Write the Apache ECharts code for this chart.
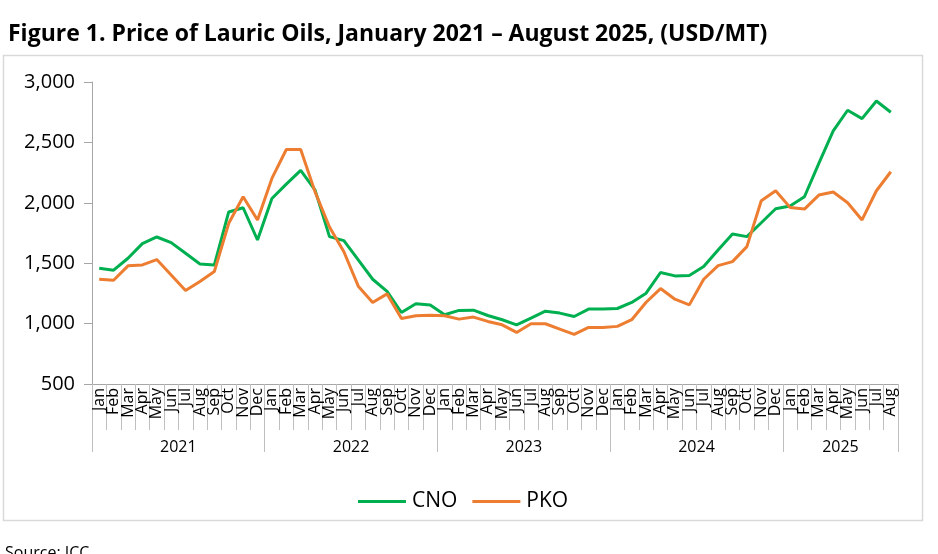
<!DOCTYPE html>
<html>
<head>
<meta charset="utf-8">
<script src="https://cdn.jsdelivr.net/npm/echarts@6/dist/echarts.min.js"></script>
<style>
html,body{margin:0;padding:0;background:#fff;}
#c{width:938px;height:554px;}
</style>
</head>
<body>
<div id="c"></div>
<script>
var months = ['Jan','Feb','Mar','Apr','May','Jun','Jul','Aug','Sep','Oct','Nov','Dec'];
var years = ['2021','2022','2023','2024','2025'];
var monthsPerYear = [12,12,12,12,8];
var yTicks = [500,1000,1500,2000,2500,3000];

var cno = [1458,1442,1541,1662,1717,1670,1582,1494,1486,1924,1959,1692,
           2036,2155,2268,2105,1720,1687,1527,1367,1266,1092,1164,1153,
           1073,1109,1111,1067,1032,990,1045,1103,1087,1059,1120,1120,
           1125,1175,1252,1423,1395,1398,1472,1610,1742,1720,1835,1951,
           1973,2050,2326,2595,2766,2697,2843,2750];
var pko = [1367,1359,1478,1486,1530,1403,1274,1348,1431,1830,2050,1858,
           2202,2441,2441,2090,1800,1595,1310,1175,1246,1043,1065,1070,
           1065,1037,1054,1018,990,927,999,999,955,911,968,968,
           977,1032,1177,1290,1202,1155,1367,1480,1513,1637,2017,2100,
           1962,1948,2064,2089,2001,1858,2100,2257];

// month category labels
var cats = [];
years.forEach(function(y, yi){
  for (var m = 0; m < monthsPerYear[yi]; m++) cats.push(months[m]);
});
// half-month grid for year group axis (boundaryGap false)
var total = cats.length;
var halfCats = [];
var yearBoundaries = {};
var yearCenters = {};
var acc = 0;
yearBoundaries[0] = true;
years.forEach(function(y, yi){
  yearCenters[(acc + monthsPerYear[yi]/2) * 2] = y;
  acc += monthsPerYear[yi];
  yearBoundaries[acc * 2] = true;
});
for (var j = 0; j <= total * 2; j++) halfCats.push(yearCenters[j] || '');

var font = "'Open Sans', 'Noto Sans', sans-serif";
var chart = echarts.init(document.getElementById('c'), null, {renderer: 'canvas'});
chart.setOption({
  animation: false,
  backgroundColor: '#ffffff',
  textStyle: {fontFamily: font},
  title: {
    text: 'Figure 1. Price of Lauric Oils, January 2021 \u2013 August 2025, (USD/MT)',
    left: 3, top: 18,
    textStyle: {fontFamily: font, fontSize: 23, fontWeight: 'bold', color: '#000'}
  },
  graphic: [
    {type: 'rect', shape: {x: 3.5, y: 55.5, width: 919, height: 465},
     style: {fill: 'none', stroke: '#d9d9d9', lineWidth: 1.5}, z: -1},
    {type: 'text', left: 5, top: 545,
     style: {text: 'Source: ICC', font: "16px 'Open Sans'", fill: '#000'}}
  ],
  legend: {
    data: ['CNO','PKO'],
    top: 486, left: 353,
    icon: 'rect', itemWidth: 48, itemHeight: 3, itemGap: 15,
    textStyle: {fontFamily: font, fontSize: 21, color: '#000', padding: [0,0,0,1]}
  },
  grid: {left: 92, right: 40, top: 82, bottom: 170, containLabel: false},
  xAxis: [{
    type: 'category', data: cats, boundaryGap: true,
    axisLine: {lineStyle: {color: '#a6a6a6', width: 1}},
    axisTick: {show: true, interval: 0, length: 46, lineStyle: {color: '#bfbfbf'}},
    axisLabel: {interval: 0, rotate: 90, margin: 4, fontSize: 16, color: '#000', fontFamily: font}
  }, {
    type: 'category', data: halfCats, boundaryGap: false, position: 'bottom',
    axisLine: {show: false},
    axisTick: {show: true, length: 68, lineStyle: {color: '#bfbfbf'},
      interval: function(i){ return !!yearBoundaries[i]; }},
    axisLabel: {interval: 0, margin: 55, fontSize: 16, color: '#000', fontFamily: font},
    splitLine: {show: false}
  }],
  yAxis: {
    type: 'value', min: yTicks[0], max: yTicks[yTicks.length-1], interval: 500,
    axisLine: {show: true, lineStyle: {color: '#a6a6a6'}},
    axisTick: {show: true, length: 8, lineStyle: {color: '#a6a6a6'}},
    splitLine: {show: false},
    axisLabel: {fontSize: 20, color: '#000', margin: 17, fontFamily: font,
      formatter: function(v){ return v.toLocaleString('en-US'); }}
  },
  series: [{
    name: 'CNO', type: 'line', data: cno, xAxisIndex: 0,
    symbol: 'none', lineStyle: {width: 3, color: '#00b050'}, itemStyle: {color: '#00b050'}
  }, {
    name: 'PKO', type: 'line', data: pko, xAxisIndex: 0,
    symbol: 'none', lineStyle: {width: 3, color: '#ed7d31'}, itemStyle: {color: '#ed7d31'}
  }]
});
</script>
</body>
</html>
